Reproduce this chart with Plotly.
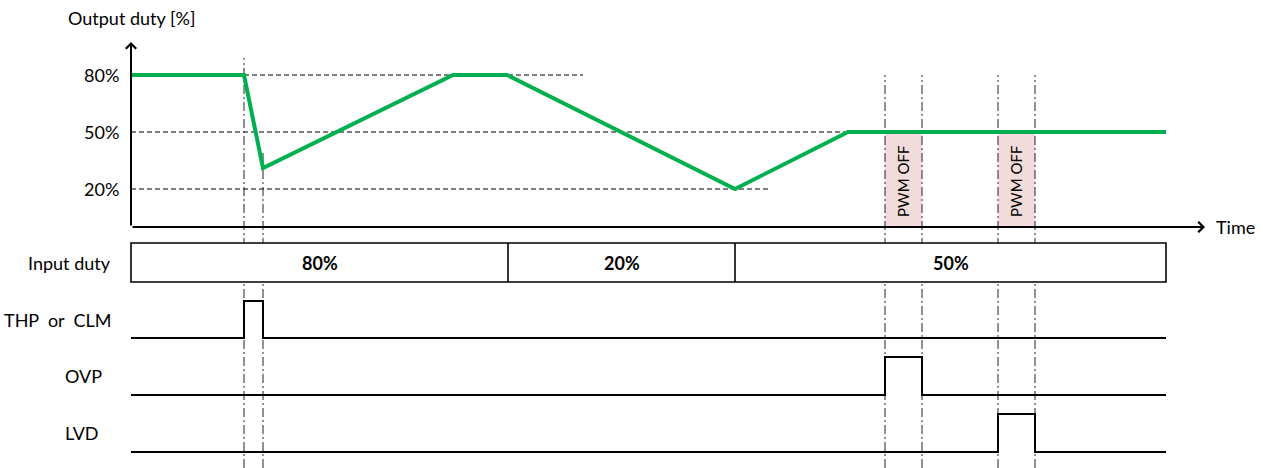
import plotly.graph_objects as go

# ---- data -------------------------------------------------------------
# output duty profile (time in arbitrary units, duty in %)
duty_t = [0, 11.3, 13.2, 32.2, 37.6, 60.4, 71.7, 103.5]
duty_v = [80, 80, 31, 80, 80, 20, 50, 50]

duty_ticks = [80, 50, 20]
duty_tick_text = ["80%", "50%", "20%"]

# dashed reference levels
ref_level = [80, 50, 20]
ref_start = [11.3, 0, 0]
ref_end = [45.2, 71.7, 63.9]

# commanded input duty segments
input_edges = [0, 37.7, 60.4, 103.5]
input_labels = ["80%", "20%", "50%"]

# protection signals (0 = inactive, 1 = active)
thp_t = [0, 11.3, 13.2, 103.5]
thp_v = [0, 1, 0, 0]
ovp_t = [0, 75.4, 79.1, 103.5]
ovp_v = [0, 1, 0, 0]
lvd_t = [0, 86.7, 90.4, 103.5]
lvd_v = [0, 1, 0, 0]

# PWM off windows
pwm_off_start = [75.4, 86.7]
pwm_off_end = [79.1, 90.4]

# event marker lines and the duty level where each starts
event_t = [11.3, 13.2, 75.4, 79.1, 86.7, 90.4]
event_top = [89, 40.5, 80, 80, 80, 80]

time_end = 107.4
duty_top = 97.4

# ---- layout helpers ---------------------------------------------------
W, H = 1263, 468
FONT = "Lato, 'Open Sans', sans-serif"
GREEN = "#00b050"
PINK = "#f2dcdb"

X_RANGE = [-13.1, 113.2]          # 10 px per time unit, t=0 at x=131
DUTY_RANGE = [(227 - H) / 1.9, 227 / 1.9]


def px_x(px):
    return X_RANGE[0] + px / W * (X_RANGE[1] - X_RANGE[0])


def lane_domain(y_low, y_high, pad=0.25):
    """Paper domain for a lane whose level 0 sits at pixel y_low and 1 at y_high."""
    h = y_low - y_high
    bottom = y_low + pad * h
    top = y_high - pad * h
    return [1 - bottom / H, 1 - top / H]


fig = go.Figure()

# output duty curve
fig.add_trace(go.Scatter(x=duty_t, y=duty_v, mode="lines",
                         line=dict(color=GREEN, width=4),
                         xaxis="x", yaxis="y", hoverinfo="skip"))

# protection signal traces
lanes = [("y3", thp_t, thp_v), ("y4", ovp_t, ovp_v), ("y5", lvd_t, lvd_v)]
for ax, t, v in lanes:
    fig.add_trace(go.Scatter(x=t, y=v, mode="lines", line_shape="hv",
                             line=dict(color="black", width=2),
                             xaxis="x", yaxis=ax, hoverinfo="skip"))

shapes = []
# PWM off shading
for s, e in zip(pwm_off_start, pwm_off_end):
    shapes.append(dict(type="rect", xref="x", yref="y", x0=s, x1=e, y0=0, y1=50,
                       fillcolor=PINK, line_width=0, layer="below"))
# reference levels
for lv, s, e in zip(ref_level, ref_start, ref_end):
    shapes.append(dict(type="line", xref="x", yref="y", x0=s, x1=e, y0=lv, y1=lv,
                       line=dict(color="black", width=1, dash="5px,3px"), layer="below"))
# event marker lines
for t, top in zip(event_t, event_top):
    shapes.append(dict(type="line", xref="x", yref="y", x0=t, x1=t,
                       y0=DUTY_RANGE[0], y1=top,
                       line=dict(color="#222", width=1, dash="9px,3px,2px,3px"),
                       layer="below"))
# input duty bar
shapes.append(dict(type="rect", xref="x", yref="y2", x0=input_edges[0], x1=input_edges[-1],
                   y0=0, y1=1, line=dict(color="black", width=1.6), fillcolor="white",
                   layer="above"))
for e in input_edges[1:-1]:
    shapes.append(dict(type="line", xref="x", yref="y2", x0=e, x1=e, y0=0, y1=1,
                       line=dict(color="black", width=1.6)))

annotations = []
# axes with arrows
annotations.append(dict(x=time_end, y=0, ax=0, ay=0, xref="x", yref="y",
                        axref="x", ayref="y", showarrow=True, arrowhead=4,
                        arrowsize=1, arrowwidth=2, arrowcolor="black", text=""))
annotations.append(dict(x=0, y=duty_top, ax=0, ay=0, xref="x", yref="y",
                        axref="x", ayref="y", showarrow=True, arrowhead=4,
                        arrowsize=1, arrowwidth=2, arrowcolor="black", text=""))
annotations.append(dict(x=px_x(1214), y=0, xref="x", yref="y", text="Time",
                        showarrow=False, xanchor="left", yanchor="middle"))
annotations.append(dict(x=0, y=1 - 18 / H, xref="x", yref="paper", text="Output duty [%]",
                        showarrow=False, xanchor="center", yanchor="middle"))
# duty tick labels
for v, txt in zip(duty_ticks, duty_tick_text):
    annotations.append(dict(x=px_x(121), y=v, xref="x", yref="y", text=txt,
                            showarrow=False, xanchor="right", yanchor="middle"))
# PWM OFF labels
for s, e in zip(pwm_off_start, pwm_off_end):
    annotations.append(dict(x=(s + e) / 2, y=24, xref="x", yref="y", text="PWM OFF",
                            textangle=-90, showarrow=False, font=dict(size=15)))
# input duty segment labels
for i, lab in enumerate(input_labels):
    annotations.append(dict(x=(input_edges[i] + input_edges[i + 1]) / 2, y=0.5,
                            xref="x", yref="y2", text="<b>" + lab + "</b>",
                            showarrow=False))
# row labels
annotations.append(dict(x=px_x(113), y=0.5, xref="x", yref="y2", text="Input duty",
                        showarrow=False, xanchor="right"))
annotations.append(dict(x=px_x(113), y=0.5, xref="x", yref="y3", text="THP  or  CLM",
                        showarrow=False, xanchor="right"))
annotations.append(dict(x=px_x(63), y=0.5, xref="x", yref="y4", text="OVP",
                        showarrow=False, xanchor="left"))
annotations.append(dict(x=px_x(63), y=0.5, xref="x", yref="y5", text="LVD",
                        showarrow=False, xanchor="left"))

hidden = dict(visible=False, fixedrange=True)
fig.update_layout(
    width=W, height=H, margin=dict(l=0, r=0, t=0, b=0),
    paper_bgcolor="white", plot_bgcolor="rgba(0,0,0,0)",
    showlegend=False,
    font=dict(family=FONT, size=18, color="black"),
    xaxis=dict(range=X_RANGE, domain=[0, 1], anchor="y", **hidden),
    yaxis=dict(range=DUTY_RANGE, domain=[0, 1], anchor="x", **hidden),
    yaxis2=dict(range=[-0.25, 1.25], domain=lane_domain(282, 243), anchor="x", **hidden),
    yaxis3=dict(range=[-0.25, 1.25], domain=lane_domain(338, 301), anchor="x", **hidden),
    yaxis4=dict(range=[-0.25, 1.25], domain=lane_domain(395, 357), anchor="x", **hidden),
    yaxis5=dict(range=[-0.25, 1.25], domain=lane_domain(452, 414), anchor="x", **hidden),
    shapes=shapes,
    annotations=annotations,
)

fig.write_html("out.html")
